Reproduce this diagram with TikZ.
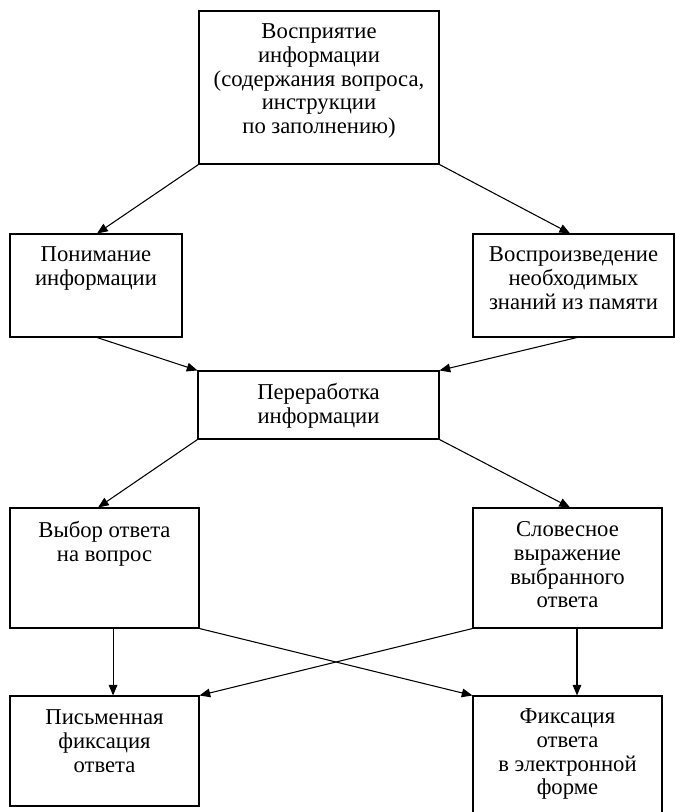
\documentclass[tikz,border=0pt]{standalone}
\usepackage{fontspec}
\setmainfont{Liberation Serif}
\usetikzlibrary{fit,calc,arrows.meta}
\begin{document}
\begin{tikzpicture}[x=0.75pt,y=-0.75pt,
  box/.style={draw=black, line width=0.8pt, inner sep=0pt, rectangle},
  txt/.style={anchor=north, align=center, inner sep=0pt,
    font=\fontsize{17}{17.8}\selectfont},
  arr/.style={draw=black, line width=0.8pt, -{Triangle[length=8pt,width=6.5pt]}}]
\useasboundingbox (0,0) rectangle (675,812);

% boxes
\node[box, fit={(199,11)(439,164)}] (perc) {};
\node[box, fit={(10,234)(182,337)}] (under) {};
\node[box, fit={(473,234)(674,337)}] (recall) {};
\node[box, fit={(198,371)(439,439)}] (proc) {};
\node[box, fit={(10,508)(199,628)}] (choice) {};
\node[box, fit={(473,508)(662,628)}] (verbal) {};
\node[box, fit={(10,696)(199,806)}] (written) {};
\node[box, fit={(473,696)(662,830)}] (digital) {};

% labels
\node[txt] (tperc) at ([yshift=-13*0.75pt]perc.north)
  {Восприятие\\информации\\(содержания вопроса,\\инструкции\\по заполнению)};
\node[txt] (tunder) at ([yshift=-13*0.75pt]under.north)
  {Понимание\\информации};
\node[txt] (trecall) at ([yshift=-13*0.75pt]recall.north)
  {Воспроизведение\\необходимых\\знаний из памяти};
\node[txt] (tproc) at ([yshift=-13*0.75pt]proc.north)
  {Переработка\\информации};
\node[txt] (tchoice) at ([yshift=-14*0.75pt]choice.north)
  {Выбор ответа\\на вопрос};
\node[txt] (tverbal) at ([yshift=-14*0.75pt]verbal.north)
  {Словесное\\выражение\\выбранного\\ответа};
\node[txt] (twritten) at ([yshift=-14*0.75pt]written.north)
  {Письменная\\фиксация\\ответа};
\node[txt] (tdigital) at ([yshift=-13*0.75pt]digital.north)
  {Фиксация\\ответа\\в электронной\\форме};

% connectors
\draw[arr] (perc.south west) -- ($(under.north west)!0.506!(under.north east)$);
\draw[arr] (perc.south east) -- ($(recall.north west)!0.483!(recall.north east)$);
\draw[arr] ($(under.south west)!0.506!(under.south east)$) -- (proc.north west);
\draw[arr] ($(recall.south west)!0.517!(recall.south east)$) -- (proc.north east);
\draw[arr] (proc.south west) -- ($(choice.north west)!0.466!(choice.north east)$);
\draw[arr] (proc.south east) -- ($(verbal.north west)!0.513!(verbal.north east)$);
\draw[arr] ($(choice.south west)!0.545!(choice.south east)$) -- ($(written.north west)!0.545!(written.north east)$);
\draw[arr] ($(verbal.south west)!0.55!(verbal.south east)$) -- ($(digital.north west)!0.55!(digital.north east)$);
\draw[arr] (choice.south east) -- (digital.north west);
\draw[arr] (verbal.south west) -- (written.north east);
\end{tikzpicture}
\end{document}
